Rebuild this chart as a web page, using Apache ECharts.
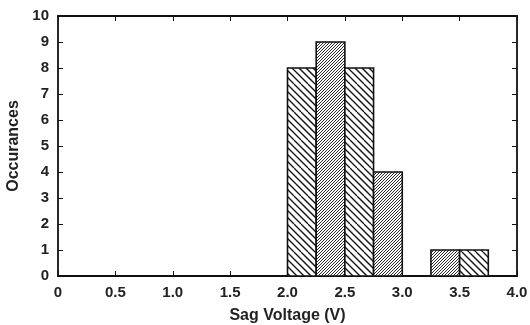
<!DOCTYPE html>
<html>
<head>
<meta charset="utf-8">
<script src="https://cdn.jsdelivr.net/npm/echarts@6/dist/echarts.min.js"></script>
<style>
  html, body { margin: 0; padding: 0; background: #fff; }
  #chart { width: 530px; height: 325px; }
</style>
</head>
<body>
<div id="chart"></div>
<script>
// histogram bins (V) and counts
var binStart = [2.0, 2.25, 2.5, 2.75, 3.25, 3.5];
var binEnd = [2.25, 2.5, 2.75, 3.0, 3.5, 3.75];
var counts = [8, 9, 8, 4, 1, 1];
// hatch style per bin: "back" = coarse \\\ , "fwd" = dense ///
var hatch = ["back", "fwd", "back", "fwd", "fwd", "back"];
var xTicks = [0, 0.5, 1.0, 1.5, 2.0, 2.5, 3.0, 3.5, 4.0];
var yTicks = [0, 1, 2, 3, 4, 5, 6, 7, 8, 9, 10];

function makeHatch(spacing, forward, lw) {
  var size = spacing * 4;
  var c = document.createElement("canvas");
  c.width = size;
  c.height = size;
  var ctx = c.getContext("2d");
  ctx.fillStyle = "#fff";
  ctx.fillRect(0, 0, size, size);
  ctx.strokeStyle = "#111";
  ctx.lineWidth = lw;
  for (var k = -size; k <= size * 2; k += spacing) {
    ctx.beginPath();
    if (forward) {
      ctx.moveTo(k, size);
      ctx.lineTo(k + size, 0);
    } else {
      ctx.moveTo(k, 0);
      ctx.lineTo(k + size, size);
    }
    ctx.stroke();
  }
  return c;
}

var patterns = {
  back: { image: makeHatch(7, false, 1.3), repeat: "repeat" },
  fwd: { image: makeHatch(3, true, 0.9), repeat: "repeat" }
};

var data = binStart.map(function (s, i) {
  return [s, binEnd[i], counts[i], i];
});

var font = "Liberation Sans, Arial, sans-serif";
var chart = echarts.init(document.getElementById("chart"));

function fmt(v) {
  return v === 0 ? "0" : v.toFixed(1);
}

var lineStyle = { color: "#111", width: 1.8 };
var tick = { show: true, inside: true, length: 5, lineStyle: { color: "#111", width: 1 } };
var nameStyle = { fontFamily: font, fontSize: 16, fontWeight: "bold", color: "#222" };
var tickLabel = { fontFamily: font, fontSize: 15, fontWeight: "bold", color: "#222" };

chart.setOption({
  animation: false,
  grid: { left: 58, right: 13, top: 16, bottom: 49, outerBoundsMode: "none" },
  xAxis: [
    {
      type: "value",
      min: 0,
      max: 4,
      interval: 0.5,
      name: "Sag Voltage (V)",
      nameLocation: "middle",
      nameGap: 32,
      nameTextStyle: nameStyle,
      axisLine: { onZero: false, lineStyle: lineStyle },
      axisTick: tick,
      axisLabel: Object.assign({ margin: 9, formatter: fmt }, tickLabel),
      splitLine: { show: false }
    },
    {
      type: "value",
      position: "top",
      min: 0,
      max: 4,
      interval: 0.5,
      axisLine: { show: true, onZero: false, lineStyle: lineStyle },
      axisTick: tick,
      axisLabel: { show: false },
      splitLine: { show: false }
    }
  ],
  yAxis: [
    {
      type: "value",
      min: 0,
      max: 10,
      interval: 1,
      name: "Occurances",
      nameLocation: "middle",
      nameGap: 28,
      nameTextStyle: nameStyle,
      axisLine: { show: true, onZero: false, lineStyle: lineStyle },
      axisTick: tick,
      axisLabel: Object.assign({ margin: 9 }, tickLabel),
      splitLine: { show: false }
    },
    {
      type: "value",
      position: "right",
      min: 0,
      max: 10,
      interval: 1,
      axisLine: { show: true, onZero: false, lineStyle: lineStyle },
      axisTick: tick,
      axisLabel: { show: false },
      splitLine: { show: false }
    }
  ],
  series: [
    {
      type: "custom",
      xAxisIndex: 0,
      yAxisIndex: 0,
      data: data,
      renderItem: function (params, api) {
        var p0 = api.coord([api.value(0), api.value(2)]);
        var p1 = api.coord([api.value(1), 0]);
        var idx = api.value(3);
        return {
          type: "rect",
          shape: { x: p0[0], y: p0[1], width: p1[0] - p0[0], height: p1[1] - p0[1] },
          style: {
            fill: patterns[hatch[idx]],
            stroke: "#111",
            lineWidth: 1.6
          }
        };
      }
    }
  ]
});
</script>
</body>
</html>
